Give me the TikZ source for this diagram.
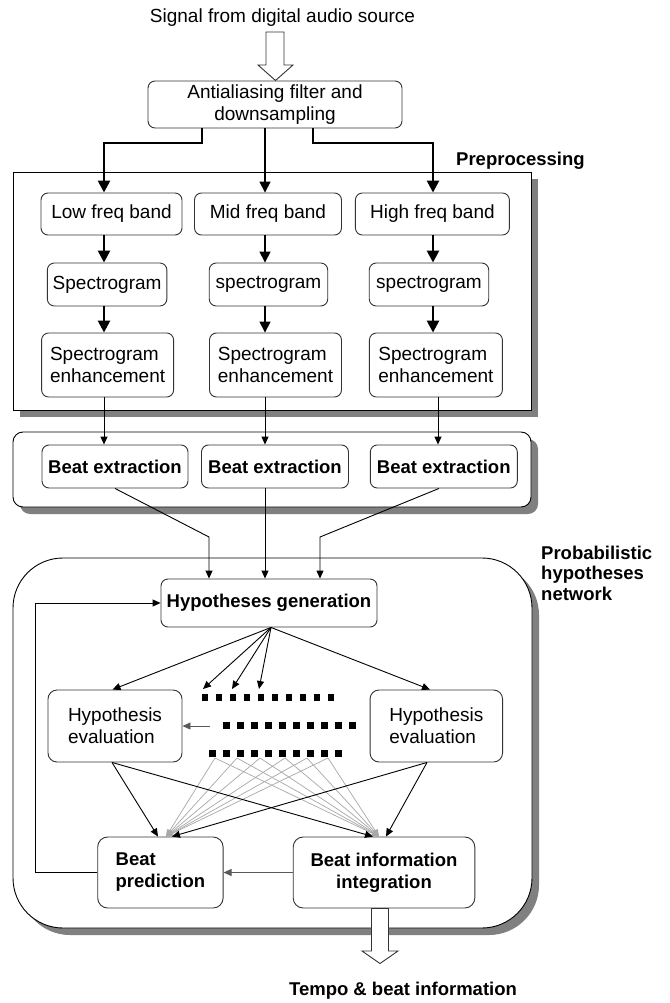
\documentclass[tikz,border=0pt]{standalone}
\usepackage{fontspec}
\setmainfont{Liberation Sans}
\usetikzlibrary{arrows.meta,shadows}
\newcommand\txtreg{\fontsize{19}{22}\selectfont}
\newcommand\txtbold{\fontsize{18.5}{22}\selectfont\bfseries}
\newcommand\txttight{\fontsize{18.5}{20.5}\selectfont\bfseries}
\definecolor{shade}{gray}{0.5}
\definecolor{linegray}{gray}{0.66}
\definecolor{edge}{gray}{0.2}
\definecolor{darkline}{gray}{0.35}

\begin{document}
\begin{tikzpicture}[x=1pt,y=-1pt,
  box/.style={draw=edge, line width=0.9pt, rounded corners=7pt, fill=white, inner sep=0pt, align=center, font=\txtreg},
  bbox/.style={box, font=\txtbold},
  panel/.style={draw=black, line width=0.9pt, fill=white, inner sep=0pt,
    drop shadow={shadow xshift=7pt, shadow yshift=-7pt, fill=shade, opacity=1}},
  boldarr/.style={line width=2.6pt, -{Triangle[length=12pt,width=12pt]}},
  midarr/.style={line width=1.6pt, -{Triangle[length=11pt,width=11pt]}},
  slim/.style={line width=0.9pt, -{Triangle[length=8pt,width=7pt]}},
  faint/.style={draw=linegray, line width=0.7pt, -{Triangle[length=7pt,width=6pt]}, linegray},
  greyarr/.style={draw=darkline, line width=0.9pt, -{Triangle[length=8pt,width=7pt]}, darkline},
  hollow/.style={draw=edge, line width=0.9pt, fill=white}
]
\useasboundingbox (0,0) rectangle (669,1003);

% outer panels
\node[panel, minimum width=518pt, minimum height=238pt] (pre) at (272,291) {};
\node[panel, rounded corners=10pt, minimum width=518pt, minimum height=75pt] (bex) at (272,469.5) {};
\node[panel, rounded corners=50pt, minimum width=519pt, minimum height=370pt] (phn) at (272.5,743) {};

% labels
\node[font=\txtreg, anchor=base, inner sep=0pt] (src) at (282.5,22.5) {Signal from digital audio source};
\node[font=\txtbold, anchor=base west, inner sep=0pt] (lpre) at (456,166) {Preprocessing};
\node[font=\txttight, anchor=north west, align=left, inner sep=0pt] (lphn) at (541,545.5) {Probabilistic\\hypotheses\\network};
\node[font=\txtbold, anchor=base, inner sep=0pt] (out) at (403,995) {Tempo \& beat information};

% input stage
\node[box, minimum width=254pt, minimum height=47pt] (aa) at (275,104.5) {Antialiasing filter and\\downsampling};

% frequency bands
\node[box, minimum width=141pt, minimum height=42pt] (low)  at (111.5,214) {Low freq band};
\node[box, minimum width=147pt, minimum height=42pt] (mid)  at (268,214)   {Mid freq band};
\node[box, minimum width=154pt, minimum height=42pt] (high) at (432.4,214) {High freq band};

\node[box, minimum width=119.5pt, minimum height=43pt] (sl) at (107.1,284.5) {Spectrogram};
\node[box, minimum width=118.5pt, minimum height=43pt] (sm) at (268.5,284.5) {spectrogram};
\node[box, minimum width=119.5pt, minimum height=43pt] (sh) at (429,284.5)   {spectrogram};

\node[box, align=left, minimum width=132pt, minimum height=64pt] (el) at (107.6,365) {Spectrogram\\enhancement};
\node[box, align=left, minimum width=132pt, minimum height=64pt] (em) at (275.5,365) {Spectrogram\\enhancement};
\node[box, align=left, minimum width=133pt, minimum height=64pt] (eh) at (435.9,365) {Spectrogram\\enhancement};

% beat extraction
\node[bbox, minimum width=146pt, minimum height=43pt] (bl) at (115,466.5)   {Beat extraction};
\node[bbox, minimum width=147pt, minimum height=43pt] (bm) at (275,466.5)   {Beat extraction};
\node[bbox, minimum width=147pt, minimum height=43pt] (bh) at (443.8,466.5) {Beat extraction};

% hypotheses network
\node[bbox, minimum width=216pt, minimum height=48pt] (hg) at (269,603) {Hypotheses generation};
\node[box, rounded corners=9pt, align=left, minimum width=134pt, minimum height=72pt] (ell) at (115,726)     {Hypothesis\\evaluation};
\node[box, rounded corners=9pt, align=left, minimum width=132.5pt, minimum height=72pt] (elr) at (436.3,726) {Hypothesis\\evaluation};
\node[bbox, rounded corners=10pt, align=left, minimum width=125.4pt, minimum height=71pt] (bp) at (160.4,872.5) {Beat\\prediction};
\node[bbox, rounded corners=10pt, minimum width=181.6pt, minimum height=71pt] (bi) at (384,872.5) {Beat information\\integration};

% hollow input / output arrows
\draw[hollow] (266,32) -- (266,65) -- (258,65) -- (275.5,80.5) -- (293,65) -- (284,65) -- (284,32) -- cycle;
\draw[hollow] (371.5,908.5) -- (371.5,951) -- (362,951) -- (380,963.5) -- (398,951) -- (388.5,951) -- (388.5,908.5) -- cycle;

% band split
\draw[boldarr] (aa.south -| 202,0) -- (202,143) -| (low.north -| 104,0);
\draw[midarr]  (aa.south -| 265,0) -- (mid.north -| 265,0);
\draw[boldarr] (aa.south -| 313,0) -- (313,143) -| (high.north -| 433,0);

% per-band chains
\draw[boldarr] (low.south -| 104,0) -- (sl.north -| 104,0);
\draw[midarr]  (mid.south -| 265,0) -- (sm.north -| 265,0);
\draw[boldarr] (high.south -| 433,0) -- (sh.north -| 433,0);
\draw[boldarr] (sl.south -| 104,0) -- (el.north -| 104,0);
\draw[midarr]  (sm.south -| 265,0) -- (em.north -| 265,0);
\draw[boldarr] (sh.south -| 433,0) -- (eh.north -| 433,0);

\draw[slim] (el.south -| 104,0) -- (bl.north -| 104,0);
\draw[slim] (em.south -| 265,0) -- (bm.north -| 265,0);
\draw[slim] (eh.south -| 438,0) -- (bh.north -| 438,0);

% beat extraction to hypotheses generation
\draw[slim] (bl.south -| 115,0) -- (209,537) -- (hg.north -| 209,0);
\draw[slim] (bm.south -| 265,0) -- (hg.north -| 265,0);
\draw[slim] (bh.south -| 439,0) -- (320,537) -- (hg.north -| 320,0);

% hypothesis rows
\foreach \k in {0,...,9} {
  \fill ({205+14*\k-3.3},694.2) rectangle +(6.6,6.6);
  \fill ({226.7+14*\k-3.3},722.2) rectangle +(6.6,6.6);
  \fill ({212.3+14*\k-3.3},750.2) rectangle +(6.6,6.6);
}
\coordinate (t1) at (203,689);
\coordinate (t2) at (232,689);
\coordinate (t3) at (259,689);
\coordinate (dm) at (210,726);

% fan out from generation
\draw[slim] (hg.south -| 271,0) -- (ell.north -| 112.5,0);
\draw[slim] (hg.south -| 271,0) -- (elr.north -| 430,0);
\draw[slim] (hg.south -| 271,0) -- (t1);
\draw[slim] (hg.south -| 271,0) -- (t2);
\draw[slim] (hg.south -| 271,0) -- (t3);
\draw[greyarr] (dm) -- (ell.east);

% many hypotheses feeding prediction and integration
\foreach \x [count=\i] in {215,237,260,285,307,328} {
  \coordinate (g\i) at (\x,758);
  \draw[faint] (g\i) -- (bp.north -| 166,0);
  \draw[faint] (g\i) -- (bi.north -| 379,0);
}
\draw[slim] (ell.south -| 112,0) -- (bp.north -| 158,0);
\draw[slim] (ell.south -| 112,0) -- (bi.north -| 373,0);
\draw[slim] (elr.south -| 427,0) -- (bp.north -| 172,0);
\draw[slim] (elr.south -| 427,0) -- (bi.north -| 386,0);

% integration and feedback
\draw[greyarr] (bi.west) -- (bp.east);
\draw[slim] (bp.west) -- (35,872.5) |- (hg.west);
\end{tikzpicture}
\end{document}
